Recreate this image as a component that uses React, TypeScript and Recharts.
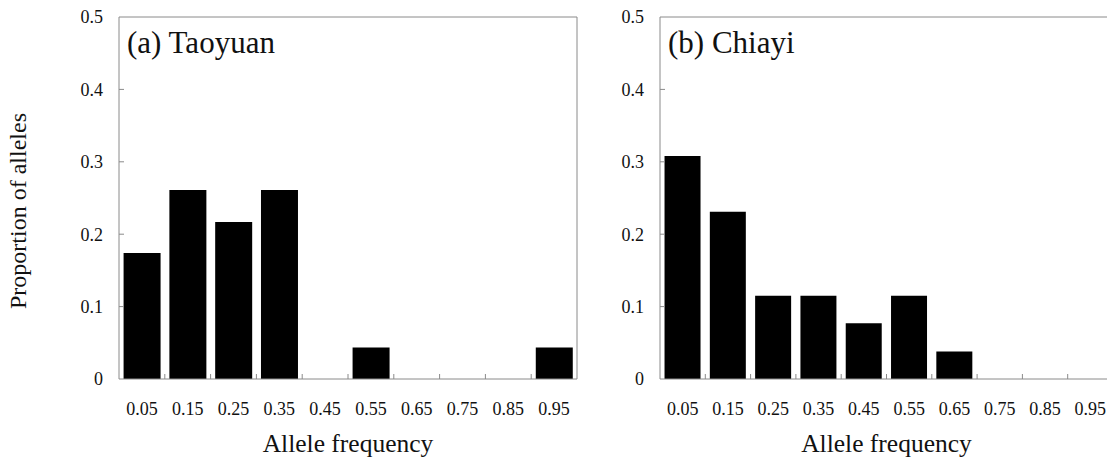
import React from 'react';
import { Bar, BarChart, Label, XAxis, YAxis } from 'recharts';

const BINS = ['0.05', '0.15', '0.25', '0.35', '0.45', '0.55', '0.65', '0.75', '0.85', '0.95'];
const TAOYUAN = [0.174, 0.261, 0.217, 0.261, 0, 0.0435, 0, 0, 0, 0.0435];
const CHIAYI = [0.308, 0.231, 0.115, 0.115, 0.077, 0.115, 0.038, 0, 0, 0];
const Y_TICKS = [0, 0.1, 0.2, 0.3, 0.4, 0.5];

const FONT = '"Liberation Serif", "Times New Roman", serif';
const AXIS = '#8a8a8a';
const TEXT = '#111';

// y ticks: label on the left, short mark pointing into the plot
const YTick = ({ x, y, payload }: any) => (
  <g>
    {payload.value > 0 && payload.value < 0.5 && (
      <line x1={x} x2={x + 5} y1={y} y2={y} stroke={AXIS} />
    )}
    <text x={x - 16} y={y} dy="0.35em" textAnchor="end" fontFamily={FONT} fontSize={18} fill={TEXT}>
      {payload.value}
    </text>
  </g>
);

// x ticks: label under the bin centre, mark on the bin's right edge
const XTick = ({ x, y, payload, index, width, visibleTicksCount }: any) => {
  const band = width / visibleTicksCount;
  const edge = x + band / 2;
  return (
    <g>
      {index < visibleTicksCount - 1 && <line x1={edge} x2={edge} y1={y} y2={y - 5} stroke={AXIS} />}
      <text x={x} y={y + 23} dy="0.71em" textAnchor="middle" fontFamily={FONT} fontSize={18} fill={TEXT}>
        {payload.value}
      </text>
    </g>
  );
};

interface PanelProps {
  title: string;
  values: number[];
  width: number;
  yAxisWidth: number;
  marginRight: number;
  rightBorder: boolean;
  yLabel?: string;
}

function Panel({ title, values, width, yAxisWidth, marginRight, rightBorder, yLabel }: PanelProps) {
  const data = BINS.map((bin, i) => ({ bin, value: values[i] }));

  return (
    <BarChart
      width={width}
      height={458}
      data={data}
      margin={{ top: 16, right: marginRight, bottom: 0, left: 0 }}
      barCategoryGap="10%"
    >
      <XAxis
        dataKey="bin"
        height={79}
        interval={0}
        tickLine={false}
        tickSize={0}
        tickMargin={0}
        axisLine={{ stroke: AXIS }}
        tick={<XTick />}
      >
        <Label
          content={({ viewBox }: any) => (
            <text
              x={viewBox.x + viewBox.width / 2}
              y={viewBox.y + 73}
              textAnchor="middle"
              fontFamily={FONT}
              fontSize={25.5}
              fill={TEXT}
            >
              Allele frequency
            </text>
          )}
        />
      </XAxis>
      <XAxis xAxisId="top" dataKey="bin" orientation="top" height={1} tick={false} tickLine={false} axisLine={{ stroke: AXIS }}>
        <Label
          content={({ viewBox }: any) => (
            <text x={viewBox.x + 8} y={viewBox.y + 37} fontFamily={FONT} fontSize={31} fill={TEXT}>
              {title}
            </text>
          )}
        />
      </XAxis>
      <YAxis
        domain={[0, 0.5]}
        ticks={Y_TICKS}
        interval={0}
        width={yAxisWidth}
        tickLine={false}
        tickSize={0}
        tickMargin={0}
        axisLine={{ stroke: AXIS }}
        tick={<YTick />}
      >
        {yLabel && (
          <Label
            content={({ viewBox }: any) => {
              const cx = 26;
              const cy = viewBox.y + viewBox.height / 2 + 13;
              return (
                <text
                  x={cx}
                  y={cy}
                  transform={`rotate(-90 ${cx} ${cy})`}
                  textAnchor="middle"
                  fontFamily={FONT}
                  fontSize={24}
                  fill={TEXT}
                >
                  {yLabel}
                </text>
              );
            }}
          />
        )}
      </YAxis>
      {rightBorder && (
        <YAxis yAxisId="right" orientation="right" domain={[0, 0.5]} width={1} tick={false} tickLine={false} axisLine={{ stroke: AXIS }} />
      )}
      <Bar dataKey="value" fill="#000" isAnimationActive={false} />
    </BarChart>
  );
}

export default function App() {
  return (
    <div
      style={{
        position: 'absolute',
        left: 0,
        top: 0,
        width: 1107,
        height: 458,
        overflow: 'hidden',
        background: '#fff',
      }}
    >
      <div style={{ position: 'absolute', left: 0, top: 0 }}>
        <Panel
          title="(a) Taoyuan"
          values={TAOYUAN}
          width={600}
          yAxisWidth={119}
          marginRight={22}
          rightBorder
          yLabel="Proportion of alleles"
        />
      </div>
      <div style={{ position: 'absolute', left: 600, top: 0 }}>
        <Panel title="(b) Chiayi" values={CHIAYI} width={513} yAxisWidth={60} marginRight={0} rightBorder={false} />
      </div>
    </div>
  );
}
